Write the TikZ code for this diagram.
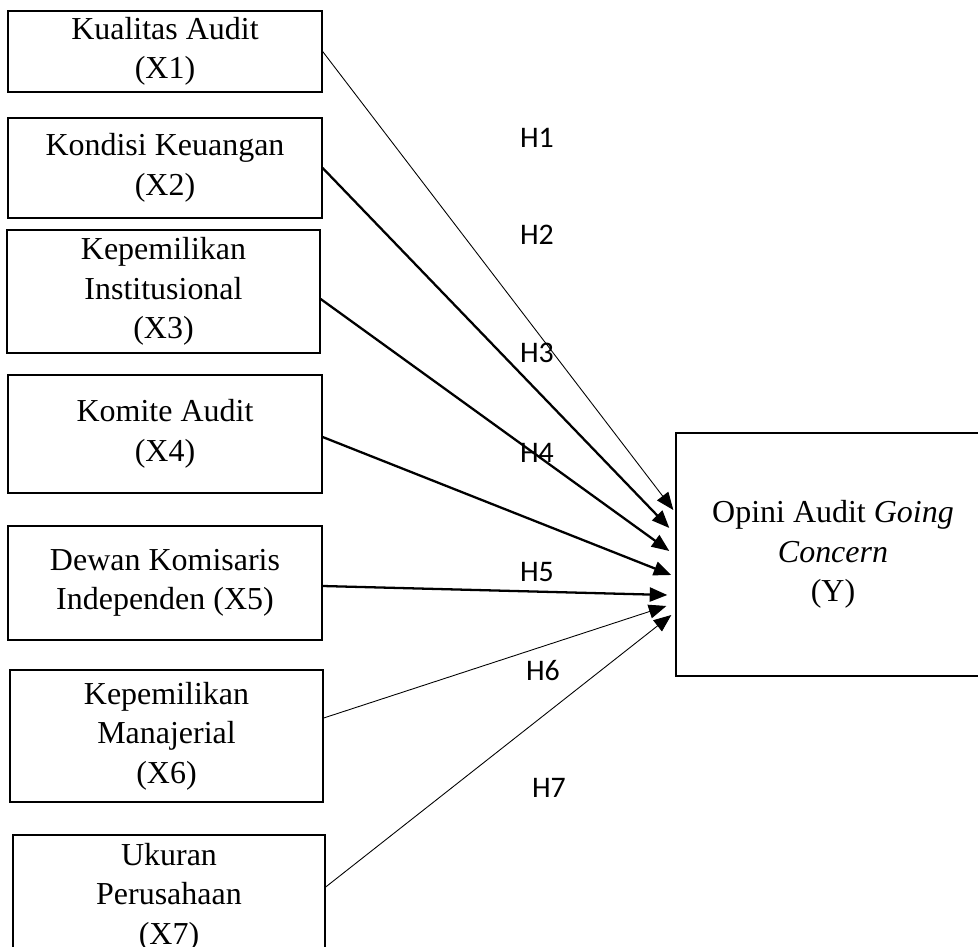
\documentclass[tikz,border=0pt]{standalone}
\usepackage{fontspec}
\setmainfont{Liberation Serif}
\newfontfamily\hfont{Carlito}
\usetikzlibrary{arrows.meta,positioning,calc}

\begin{document}
\begin{tikzpicture}[x = 0.02cm, y = -0.02cm,
		var_node/.style = {rectangle, draw, line width = 0.8pt, align = center, inner sep = 0pt, font = \fontsize{18.2}{22.5}\selectfont},
		h_label/.style = {inner sep = 0pt, font = \hfont\fontsize{17}{20}\selectfont},
		thin_arrow/.style = {-{Triangle[length = 10pt, width = 8pt]}, line width = 0.5pt},
		thick_arrow/.style = {-{Triangle[length = 10pt, width = 8pt]}, line width = 1.3pt},
		]
		\useasboundingbox (0,0) rectangle (978,947);
		
		%variabel X
		\node[var_node, minimum width = 6.28cm, minimum height = 1.62cm] (x1) at (165,51.5) {Kualitas Audit\\(X1)};
		\node[var_node, minimum width = 6.28cm, minimum height = 2.00cm] (x2) at (165,168) {Kondisi Keuangan\\(X2)};
		\node[var_node, minimum width = 6.26cm, minimum height = 2.46cm] (x3) at (163.5,291.5) {Kepemilikan\\Institusional\\(X3)};
		\node[var_node, minimum width = 6.28cm, minimum height = 2.36cm] (x4) at (165,434) {Komite Audit\\(X4)};
		\node[var_node, minimum width = 6.28cm, minimum height = 2.28cm] (x5) at (165,583) {Dewan Komisaris\\Independen (X5)};
		\node[var_node, minimum width = 6.26cm, minimum height = 2.64cm] (x6) at (166.5,736) {Kepemilikan\\Manajerial\\(X6)};
		\node[var_node, minimum width = 6.24cm, minimum height = 2.48cm] (x7) at (169,897) {Ukuran\\Perusahaan\\(X7)};
		
		%variabel Y
		\node[var_node, minimum width = 6.28cm, minimum height = 4.86cm] (y) at (833,554.5) {Opini Audit \textit{Going}\\\textit{Concern}\\(Y)};
		
		%hipotesis
		\draw[thin_arrow] (x1.east) -- ($(y.west)+(-2,-44.5)$);
		\draw[thick_arrow] (x2.east) -- ($(y.west)+(-6,-26.5)$);
		\draw[thick_arrow] ($(x3.east)+(0,7.5)$) -- ($(y.west)+(-6,-3.5)$);
		\draw[thick_arrow] ($(x4.east)+(0,3)$) -- ($(y.west)+(-4,20.5)$);
		\draw[thick_arrow] ($(x5.east)+(0,3)$) -- ($(y.west)+(-8,40.5)$);
		\draw[thin_arrow] ($(x6.east)+(0,-18)$) -- ($(y.west)+(-9,51.5)$);
		\draw[thin_arrow] ($(x7.east)+(0,-10)$) -- ($(y.west)+(-4,60.5)$);
		
		\node[h_label] (h1) at (537,138) {H1};
		\node[h_label] (h2) at (537,235) {H2};
		\node[h_label] (h3) at (537,353) {H3};
		\node[h_label] (h4) at (537,453) {H4};
		\node[h_label] (h5) at (537,572) {H5};
		\node[h_label] (h6) at (543,671) {H6};
		\node[h_label] (h7) at (549,788) {H7};

\end{tikzpicture}
\end{document}
